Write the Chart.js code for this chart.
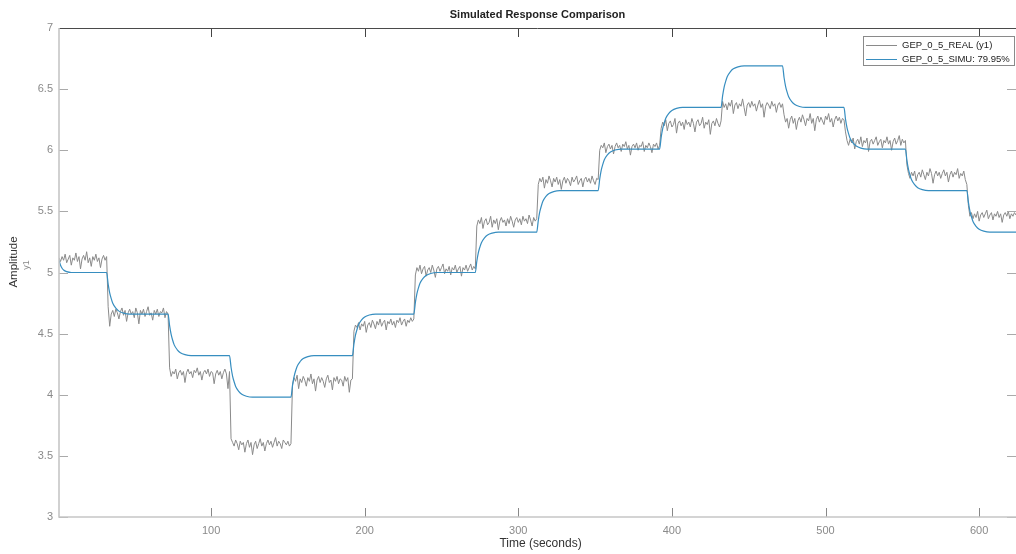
<!DOCTYPE html>
<html>
<head>
<meta charset="utf-8">
<title>Simulated Response Comparison</title>
<script src="https://cdn.jsdelivr.net/npm/chart.js@4.4.1/dist/chart.umd.min.js"></script>
<style>
  html, body { margin: 0; padding: 0; background: #fff; }
  #wrap { width: 1016px; height: 554px; }
</style>
</head>
<body>
<div id="wrap"><canvas id="cmp" width="1016" height="554"></canvas></div>
<script>
// axis ranges and tick labels
const xMin = 1, xMax = 624;
const yMin = 3, yMax = 7;
const xTicks = [100, 200, 300, 400, 500, 600];
const yTicks = [3, 3.5, 4, 4.5, 5, 5.5, 6, 6.5, 7];

const seriesNames = ['GEP_0_5_REAL (y1)', 'GEP_0_5_SIMU: 79.95%'];

// measured output, one sample per second starting at t = 1
const realStart = 1, realStep = 1;
const realValues = [
  // 1..32
  5.12, 5.09, 5.13, 5.10, 5.15, 5.08, 5.11, 5.14, 5.06, 5.12, 5.10, 5.16, 5.09, 5.13, 5.03, 5.11,
  5.14, 5.10, 5.17, 5.08, 5.12, 5.05, 5.13, 5.10, 5.15, 5.09, 5.12, 5.04, 5.11, 5.14, 5.10, 5.13,
  // 33..72
  4.72, 4.56, 4.66, 4.69, 4.64, 4.70, 4.67, 4.62, 4.68, 4.71, 4.65, 4.69, 4.60, 4.67, 4.70, 4.66,
  4.68, 4.63, 4.71, 4.67, 4.58, 4.69, 4.66, 4.70, 4.64, 4.68, 4.72, 4.65, 4.67, 4.61, 4.69, 4.66,
  4.70, 4.64, 4.68, 4.67, 4.71, 4.63, 4.68, 4.66,
  // 73..112
  4.22, 4.15, 4.19, 4.17, 4.21, 4.13, 4.18, 4.20, 4.16, 4.19, 4.10, 4.18, 4.21, 4.17, 4.19, 4.14,
  4.20, 4.18, 4.22, 4.16, 4.19, 4.12, 4.18, 4.20, 4.17, 4.21, 4.15, 4.19, 4.18, 4.09, 4.17, 4.20,
  4.16, 4.19, 4.13, 4.18, 4.21, 4.17, 4.05, 4.19,
  // 113..152
  3.64, 3.61, 3.58, 3.63, 3.60, 3.55, 3.62, 3.59, 3.61, 3.53, 3.60, 3.63, 3.57, 3.61, 3.51, 3.59,
  3.62, 3.56, 3.60, 3.64, 3.58, 3.61, 3.54, 3.60, 3.63, 3.59, 3.62, 3.57, 3.61, 3.65, 3.58, 3.62,
  3.60, 3.56, 3.63, 3.61, 3.59, 3.62, 3.58, 3.60,
  // 153..192
  4.08, 4.14, 4.11, 4.16, 4.05, 4.13, 4.10, 4.15, 4.12, 4.07, 4.14, 4.11, 4.17, 4.09, 4.13, 4.03,
  4.12, 4.15, 4.10, 4.14, 4.11, 4.06, 4.13, 4.16, 4.10, 4.12, 4.04, 4.14, 4.11, 4.15, 4.09, 4.13,
  4.12, 4.07, 4.15, 4.11, 4.14, 4.02, 4.12, 4.13,
  // 193..232
  4.52, 4.57, 4.55, 4.59, 4.53, 4.58, 4.56, 4.60, 4.51, 4.57, 4.59, 4.55, 4.61, 4.58, 4.54, 4.60,
  4.57, 4.62, 4.56, 4.59, 4.61, 4.53, 4.60, 4.58, 4.62, 4.57, 4.60, 4.55, 4.61, 4.59, 4.63, 4.57,
  4.60, 4.62, 4.56, 4.61, 4.59, 4.63, 4.60, 4.62,
  // 233..272
  4.98, 5.04, 5.01, 5.06, 4.99, 5.03, 5.05, 4.97, 5.02, 5.04, 5.00, 5.06, 5.02, 4.96, 5.03, 5.05,
  5.01, 5.04, 5.07, 4.99, 5.03, 5.01, 5.05, 4.98, 5.04, 5.02, 5.06, 5.00, 5.03, 5.05, 4.97, 5.04,
  5.02, 5.06, 5.01, 5.04, 5.07, 5.02, 5.05, 5.03,
  // 273..312
  5.38, 5.43, 5.40, 5.45, 5.36, 5.42, 5.44, 5.39, 5.41, 5.46, 5.37, 5.43, 5.40, 5.44, 5.35, 5.42,
  5.45, 5.41, 5.43, 5.38, 5.44, 5.40, 5.46, 5.42, 5.37, 5.43, 5.45, 5.41, 5.44, 5.39, 5.46, 5.42,
  5.44, 5.40, 5.47, 5.43, 5.38, 5.45, 5.42, 5.44,
  // 313..352
  5.72, 5.77, 5.74, 5.78, 5.69, 5.76, 5.73, 5.79, 5.75, 5.70, 5.77, 5.74, 5.78, 5.72, 5.76, 5.68,
  5.75, 5.78, 5.73, 5.77, 5.75, 5.71, 5.78, 5.74, 5.76, 5.79, 5.72, 5.75, 5.77, 5.70, 5.76, 5.78,
  5.74, 5.77, 5.73, 5.79, 5.75, 5.72, 5.77, 5.76,
  // 353..392
  6.00, 6.04, 6.02, 6.06, 5.98, 6.03, 6.05, 6.01, 6.04, 5.97, 6.03, 6.06, 6.02, 6.04, 5.99, 6.05,
  6.03, 6.07, 6.01, 6.04, 5.96, 6.03, 6.05, 6.02, 6.06, 6.00, 6.04, 6.03, 6.07, 5.99, 6.04, 6.02,
  6.06, 6.03, 5.98, 6.05, 6.03, 6.06, 6.01, 6.04,
  // 393..432
  6.18, 6.23, 6.20, 6.25, 6.16, 6.22, 6.24, 6.19, 6.21, 6.26, 6.14, 6.22, 6.24, 6.20, 6.23, 6.17,
  6.25, 6.21, 6.23, 6.19, 6.26, 6.22, 6.15, 6.23, 6.25, 6.20, 6.22, 6.27, 6.18, 6.23, 6.21, 6.25,
  6.13, 6.22, 6.24, 6.20, 6.26, 6.22, 6.19, 6.24,
  // 433..472
  6.40, 6.35, 6.38, 6.33, 6.39, 6.36, 6.41, 6.30, 6.37, 6.39, 6.34, 6.38, 6.36, 6.42, 6.35, 6.28,
  6.37, 6.39, 6.35, 6.40, 6.36, 6.38, 6.32, 6.37, 6.41, 6.35, 6.38, 6.27, 6.36, 6.39, 6.37, 6.34,
  6.40, 6.36, 6.38, 6.31, 6.37, 6.39, 6.35, 6.38,
  // 473..512
  6.29, 6.23, 6.26, 6.18, 6.25, 6.28, 6.22, 6.26, 6.17, 6.24, 6.27, 6.23, 6.29, 6.25, 6.20, 6.26,
  6.24, 6.30, 6.22, 6.26, 6.16, 6.25, 6.28, 6.23, 6.27, 6.24, 6.21, 6.28, 6.25, 6.30, 6.23, 6.26,
  6.19, 6.25, 6.28, 6.24, 6.27, 6.22, 6.26, 6.25,
  // 513..552
  6.15, 6.08, 6.04, 6.09, 6.06, 6.10, 6.01, 6.07, 6.09, 6.05, 6.11, 6.03, 6.08, 6.06, 6.10, 5.99,
  6.07, 6.09, 6.05, 6.08, 6.11, 6.04, 6.07, 6.09, 6.02, 6.08, 6.06, 6.11, 6.05, 6.08, 6.00, 6.07,
  6.10, 6.05, 6.08, 6.12, 6.04, 6.09, 6.06, 6.08,
  // 553..592
  5.88, 5.81, 5.77, 5.82, 5.79, 5.83, 5.75, 5.80, 5.82, 5.78, 5.84, 5.80, 5.76, 5.82, 5.79, 5.85,
  5.81, 5.73, 5.80, 5.83, 5.79, 5.82, 5.77, 5.81, 5.84, 5.79, 5.82, 5.74, 5.80, 5.83, 5.78, 5.82,
  5.80, 5.85, 5.77, 5.81, 5.79, 5.83, 5.76, 5.72,
  // 593..624
  5.55, 5.46, 5.49, 5.44, 5.48, 5.45, 5.50, 5.42, 5.47, 5.49, 5.45, 5.48, 5.51, 5.44, 5.47, 5.49,
  5.43, 5.48, 5.46, 5.50, 5.45, 5.48, 5.41, 5.47, 5.49, 5.46, 5.50, 5.44, 5.48, 5.46, 5.49, 5.47
];

// simulated model output (read at the corners of each step)
const simTimes = [
  1, 2, 3, 4, 6, 9,
  32, 33, 34, 35, 36, 38, 40, 43, 47,
  72, 73, 74, 75, 76, 78, 80, 83, 87,
  112, 113, 114, 115, 116, 118, 120, 123, 127,
  152, 153, 154, 155, 156, 158, 160, 163, 167,
  192, 193, 194, 195, 196, 198, 200, 203, 207,
  232, 233, 234, 235, 236, 238, 240, 243, 247,
  272, 273, 274, 275, 276, 278, 280, 283, 287,
  312, 313, 314, 315, 316, 318, 320, 323, 327,
  352, 353, 354, 355, 356, 358, 360, 363, 367,
  392, 393, 394, 395, 396, 398, 400, 403, 407,
  432, 433, 434, 435, 436, 438, 440, 443, 447,
  472, 473, 474, 475, 476, 478, 480, 483, 487,
  512, 513, 514, 515, 516, 518, 520, 523, 527,
  552, 553, 554, 555, 556, 558, 560, 563, 567,
  592, 593, 594, 595, 596, 598, 600, 603, 607,
  624
];
const simValues = [
  5.10, 5.06, 5.035, 5.02, 5.007, 5.00,
  5.00, 4.905, 4.833, 4.786, 4.748, 4.708, 4.684, 4.668, 4.66,
  4.66, 4.565, 4.493, 4.446, 4.408, 4.368, 4.344, 4.328, 4.32,
  4.32, 4.225, 4.153, 4.106, 4.068, 4.028, 4.004, 3.988, 3.98,
  3.98, 4.075, 4.147, 4.194, 4.232, 4.272, 4.296, 4.312, 4.32,
  4.32, 4.415, 4.487, 4.534, 4.572, 4.612, 4.636, 4.652, 4.66,
  4.66, 4.755, 4.827, 4.874, 4.912, 4.952, 4.976, 4.992, 5.00,
  5.00, 5.092, 5.162, 5.208, 5.244, 5.284, 5.307, 5.322, 5.33,
  5.33, 5.425, 5.497, 5.544, 5.582, 5.622, 5.646, 5.662, 5.67,
  5.67, 5.765, 5.837, 5.884, 5.922, 5.962, 5.986, 6.002, 6.01,
  6.01, 6.105, 6.177, 6.224, 6.262, 6.302, 6.326, 6.342, 6.35,
  6.35, 6.445, 6.517, 6.564, 6.602, 6.642, 6.666, 6.682, 6.69,
  6.69, 6.595, 6.523, 6.476, 6.438, 6.398, 6.374, 6.358, 6.35,
  6.35, 6.255, 6.183, 6.136, 6.098, 6.058, 6.034, 6.018, 6.01,
  6.01, 5.915, 5.843, 5.796, 5.758, 5.718, 5.694, 5.678, 5.67,
  5.67, 5.575, 5.503, 5.456, 5.418, 5.378, 5.354, 5.338, 5.33,
  5.33
];

const realColor = 'rgb(138,138,138)';
const simColor = 'rgb(55,142,192)';
const font = '"Liberation Sans", Arial, Helvetica, sans-serif';

const realPoints = realValues.map((v, i) => ({ x: realStart + i * realStep, y: v }));
const simPoints = simValues.map((v, i) => ({ x: simTimes[i], y: v }));

// matlab-ish box, inward ticks, title, labels and legend
const matlabFrame = {
  id: 'matlabFrame',
  afterDraw(chart) {
    const { ctx, chartArea: a, scales: { x, y } } = chart;
    ctx.save();

    ctx.lineWidth = 1;
    xTicks.forEach(v => {
      const px = Math.round(x.getPixelForValue(v)) + 0.5;
      ctx.strokeStyle = '#444';
      ctx.beginPath(); ctx.moveTo(px, a.top); ctx.lineTo(px, a.top + 9); ctx.stroke();
      ctx.strokeStyle = '#888';
      ctx.beginPath(); ctx.moveTo(px, a.bottom); ctx.lineTo(px, a.bottom - 9); ctx.stroke();
    });
    yTicks.forEach(v => {
      const py = Math.round(y.getPixelForValue(v)) + 0.5;
      ctx.strokeStyle = '#aaa';
      ctx.beginPath(); ctx.moveTo(a.left, py); ctx.lineTo(a.left + 9, py);
      ctx.moveTo(a.right, py); ctx.lineTo(a.right - 9, py); ctx.stroke();
    });

    // box
    ctx.strokeStyle = '#4a4a4a';
    ctx.beginPath(); ctx.moveTo(a.left, a.top + 0.5); ctx.lineTo(a.right, a.top + 0.5); ctx.stroke();
    ctx.strokeStyle = '#c6c6c6';
    ctx.lineWidth = 1.6;
    ctx.beginPath();
    ctx.moveTo(a.left, a.top); ctx.lineTo(a.left, a.bottom); ctx.lineTo(a.right, a.bottom);
    ctx.stroke();

    // title
    ctx.fillStyle = '#222';
    ctx.textAlign = 'center';
    ctx.textBaseline = 'middle';
    ctx.font = 'bold 11px ' + font;
    ctx.fillText('Simulated Response Comparison', (a.left + a.right) / 2, 15);

    // axis labels
    ctx.fillStyle = '#333';
    ctx.font = '12px ' + font;
    ctx.fillText('Time (seconds)', (a.left + a.right) / 2 + 3, 544);
    ctx.save();
    ctx.translate(14, 262);
    ctx.rotate(-Math.PI / 2);
    ctx.font = '11.5px ' + font;
    ctx.fillText('Amplitude', 0, 0);
    ctx.restore();
    ctx.save();
    ctx.translate(27, 265);
    ctx.rotate(-Math.PI / 2);
    ctx.fillStyle = '#888';
    ctx.font = '9px ' + font;
    ctx.fillText('y1', 0, 0);
    ctx.restore();

    // legend
    const lx = 863.5, ly = 36.5, lw = 151, lh = 29;
    ctx.fillStyle = '#fff';
    ctx.fillRect(lx, ly, lw, lh);
    ctx.strokeStyle = '#8a8a8a';
    ctx.lineWidth = 1;
    ctx.strokeRect(lx, ly, lw, lh);
    const rows = [[realColor, 45], [simColor, 59]];
    ctx.font = '9.5px ' + font;
    ctx.textAlign = 'left';
    rows.forEach(([c, ry], i) => {
      ctx.strokeStyle = c;
      ctx.beginPath(); ctx.moveTo(866, ry + 0.5); ctx.lineTo(897, ry + 0.5); ctx.stroke();
      ctx.fillStyle = '#222';
      ctx.fillText(seriesNames[i], 902, ry + 0.5);
    });

    ctx.restore();
  }
};

new Chart(document.getElementById('cmp'), {
  type: 'line',
  data: {
    datasets: [
      {
        label: seriesNames[0],
        data: realPoints,
        borderColor: realColor,
        borderWidth: 1,
        pointRadius: 0,
        tension: 0,
        order: 1
      },
      {
        label: seriesNames[1],
        data: simPoints,
        borderColor: simColor,
        borderWidth: 1.2,
        pointRadius: 0,
        cubicInterpolationMode: 'monotone',
        order: 0
      }
    ]
  },
  options: {
    responsive: false,
    animation: false,
    layout: { padding: { top: 28, right: 0, left: 0, bottom: 0 } },
    plugins: {
      legend: { display: false },
      tooltip: { enabled: false }
    },
    scales: {
      x: {
        type: 'linear',
        min: xMin,
        max: xMax,
        afterBuildTicks: s => { s.ticks = xTicks.map(v => ({ value: v })); },
        afterFit: s => { s.height = 37; },
        grid: { display: false, drawTicks: false },
        border: { display: false },
        ticks: {
          padding: 7,
          color: '#8a8a8a',
          font: { family: font, size: 11 },
          maxRotation: 0,
          callback: v => String(v)
        }
      },
      y: {
        min: yMin,
        max: yMax,
        afterBuildTicks: s => { s.ticks = yTicks.map(v => ({ value: v })); },
        afterFit: s => { s.width = 59; },
        grid: { display: false, drawTicks: false },
        border: { display: false },
        ticks: {
          padding: 6,
          color: '#8a8a8a',
          font: { family: font, size: 11 },
          callback: v => String(v)
        }
      }
    }
  },
  plugins: [matlabFrame]
});
</script>
</body>
</html>
